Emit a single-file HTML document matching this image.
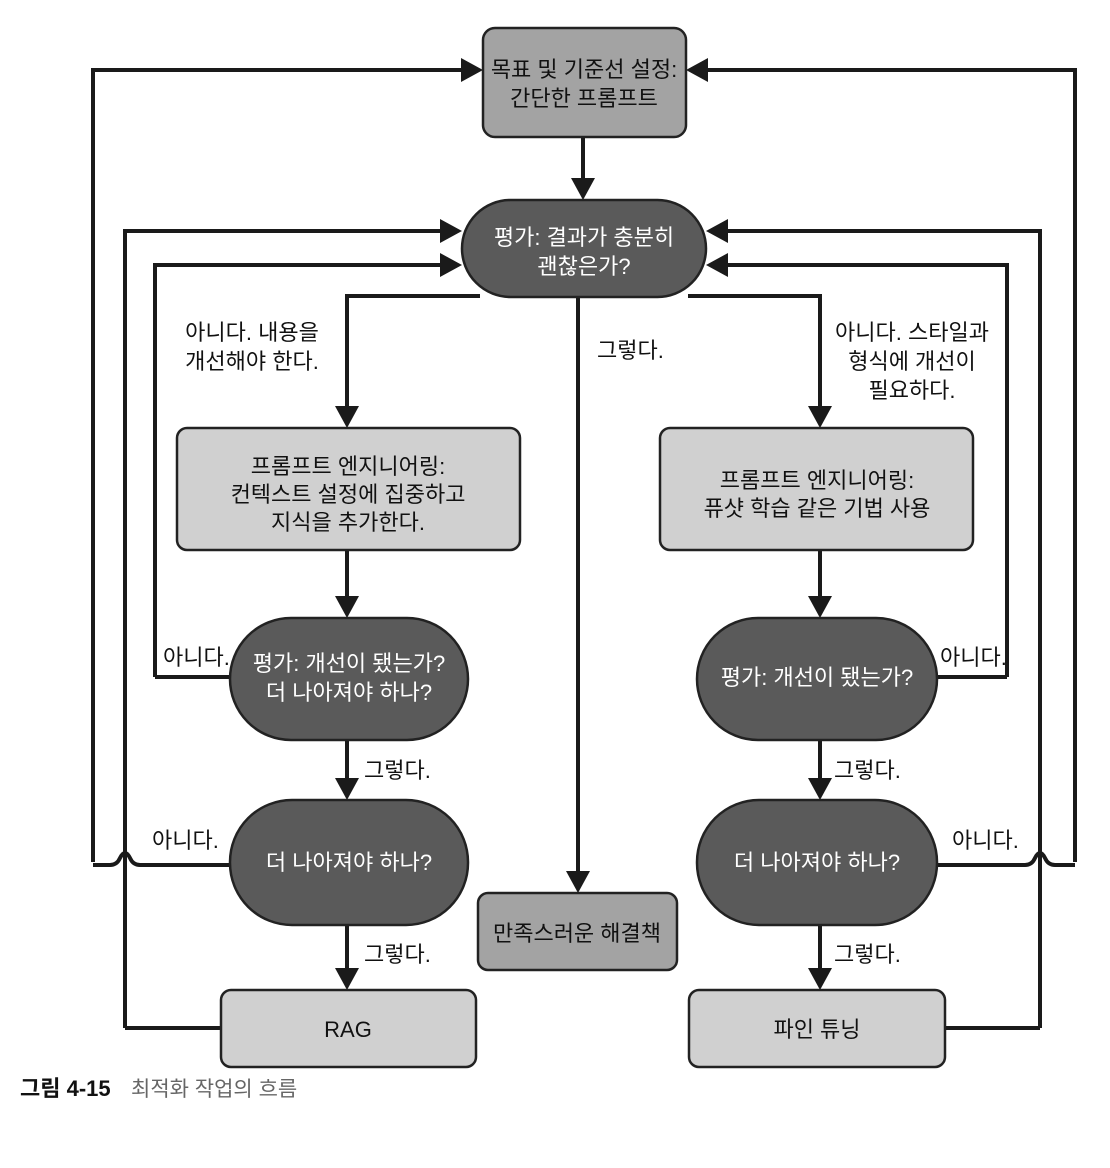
<!DOCTYPE html>
<html><head><meta charset="utf-8"><style>
html,body{margin:0;padding:0;background:#fff;}
svg{display:block;}
text{font-family:"Liberation Sans","Noto Sans CJK KR",sans-serif;font-size:22px;}
</style></head><body>
<svg width="1110" height="1168" viewBox="0 0 1110 1168" xmlns="http://www.w3.org/2000/svg">
<g fill="none" stroke="#1a1a1a" stroke-width="4">
<line x1="583" y1="137" x2="583" y2="178"/>
<path d="M93,862 V70 H462"/>
<path d="M1075,862 V70 H708"/>
<path d="M125,1028 V231 H440"/>
<path d="M155,677 V265 H440"/>
<path d="M1040,1028 V231 H728"/>
<path d="M1007,677 V265 H728"/>
<path d="M480,296 H347 V408"/>
<path d="M688,296 H820 V408"/>
<line x1="578" y1="297" x2="578" y2="872"/>
<line x1="347" y1="550" x2="347" y2="598"/>
<line x1="347" y1="740" x2="347" y2="780"/>
<line x1="347" y1="925" x2="347" y2="970"/>
<path d="M155,677 H232"/>
<path d="M125,1028 H222"/>
<path d="M232,865 H140 Q133,865 130,858 Q125,848 120,858 Q117,865 110,865 H93"/>
<line x1="820" y1="550" x2="820" y2="598"/>
<line x1="820" y1="740" x2="820" y2="780"/>
<line x1="820" y1="925" x2="820" y2="970"/>
<path d="M935,677 H1007"/>
<path d="M945,1028 H1040"/>
<path d="M935,865 H1025 Q1032,865 1035,858 Q1040,848 1045,858 Q1048,865 1055,865 H1075"/>
</g>
<g fill="#1a1a1a">
<path d="M583,200 l-12,-22 h24z"/>
<path d="M483,70 l-22,-12 v24z"/>
<path d="M686,70 l22,-12 v24z"/>
<path d="M462,231 l-22,-12 v24z"/>
<path d="M462,265 l-22,-12 v24z"/>
<path d="M706,231 l22,-12 v24z"/>
<path d="M706,265 l22,-12 v24z"/>
<path d="M347,428 l-12,-22 h24z"/>
<path d="M820,428 l-12,-22 h24z"/>
<path d="M347,618 l-12,-22 h24z"/>
<path d="M820,618 l-12,-22 h24z"/>
<path d="M347,800 l-12,-22 h24z"/>
<path d="M820,800 l-12,-22 h24z"/>
<path d="M347,990 l-12,-22 h24z"/>
<path d="M820,990 l-12,-22 h24z"/>
<path d="M578,893 l-12,-22 h24z"/>
</g>
<g stroke="#222" stroke-width="2.5">
<rect x="483" y="28" width="203" height="109" rx="12" fill="#a3a3a3"/>
<rect x="462" y="200" width="244" height="97" rx="48.5" fill="#5a5a5a"/>
<rect x="177" y="428" width="343" height="122" rx="10" fill="#d0d0d0"/>
<rect x="660" y="428" width="313" height="122" rx="10" fill="#d0d0d0"/>
<rect x="230" y="618" width="238" height="122" rx="61" fill="#5a5a5a"/>
<rect x="697" y="618" width="240" height="122" rx="61" fill="#5a5a5a"/>
<rect x="230" y="800" width="238" height="125" rx="62" fill="#5a5a5a"/>
<rect x="697" y="800" width="240" height="125" rx="62" fill="#5a5a5a"/>
<rect x="478" y="893" width="199" height="77" rx="10" fill="#a3a3a3"/>
<rect x="221" y="990" width="255" height="77" rx="10" fill="#d0d0d0"/>
<rect x="689" y="990" width="256" height="77" rx="10" fill="#d0d0d0"/>
</g>
<g text-anchor="middle" fill="#111">
<text x="584" y="77">목표 및 기준선 설정:</text>
<text x="584" y="106">간단한 프롬프트</text>
<text x="348" y="474">프롬프트 엔지니어링:</text>
<text x="348" y="502">컨텍스트 설정에 집중하고</text>
<text x="348" y="530">지식을 추가한다.</text>
<text x="817" y="488">프롬프트 엔지니어링:</text>
<text x="817" y="516">퓨샷 학습 같은 기법 사용</text>
<text x="577" y="941">만족스러운 해결책</text>
<text x="348" y="1037">RAG</text>
<text x="817" y="1037">파인 튜닝</text>
<text x="252" y="340">아니다. 내용을</text>
<text x="252" y="369">개선해야 한다.</text>
<text x="912" y="340">아니다. 스타일과</text>
<text x="912" y="369">형식에 개선이</text>
<text x="912" y="398">필요하다.</text>
</g>
<g text-anchor="middle" fill="#fff">
<text x="584" y="245">평가: 결과가 충분히</text>
<text x="584" y="274">괜찮은가?</text>
<text x="349" y="671">평가: 개선이 됐는가?</text>
<text x="349" y="700">더 나아져야 하나?</text>
<text x="817" y="685">평가: 개선이 됐는가?</text>
<text x="349" y="870">더 나아져야 하나?</text>
<text x="817" y="870">더 나아져야 하나?</text>
</g>
<g fill="#111">
<text x="597" y="358">그렇다.</text>
<text x="163" y="665">아니다.</text>
<text x="940" y="665">아니다.</text>
<text x="364" y="778">그렇다.</text>
<text x="834" y="778">그렇다.</text>
<text x="152" y="848">아니다.</text>
<text x="952" y="848">아니다.</text>
<text x="364" y="962">그렇다.</text>
<text x="834" y="962">그렇다.</text>
</g>
<text x="20" y="1096" style="font-size:22px;font-weight:bold" fill="#111">그림 4-15</text>
<text x="131" y="1096" style="font-size:21px" fill="#666">최적화 작업의 흐름</text>
</svg>
</body></html>
